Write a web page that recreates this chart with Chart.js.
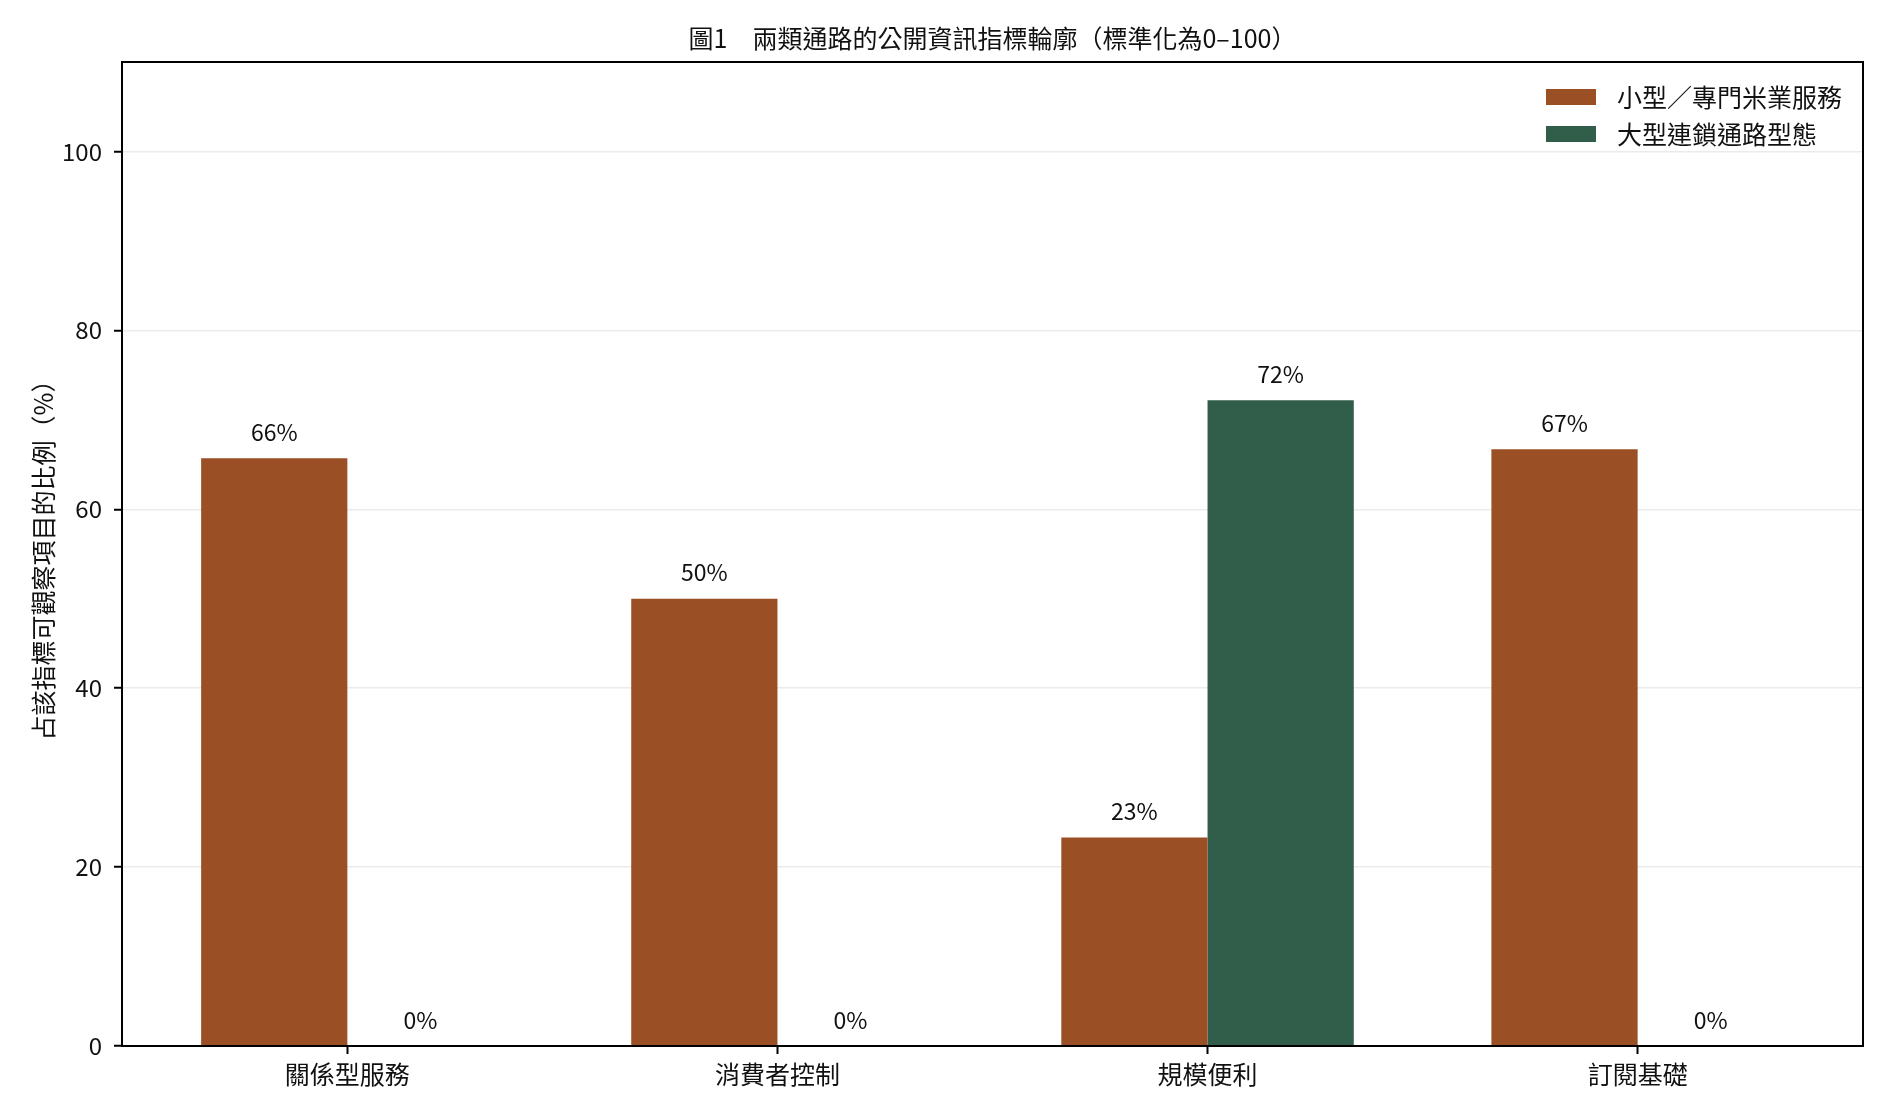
<!DOCTYPE html>
<html>
<head>
<meta charset="utf-8">
<script src="https://cdn.jsdelivr.net/npm/chart.js@4.4.1/dist/chart.umd.min.js"></script>
<style>
  html, body { margin: 0; padding: 0; background: #fff; }
  #wrap { width: 1890px; height: 1116px; }
</style>
</head>
<body>
<div id="wrap"><canvas id="chart" width="1890" height="1116"></canvas></div>
<script>
const categories = ['關係型服務', '消費者控制', '規模便利', '訂閱基礎'];
const smallShop = [65.7, 50.0, 23.3, 66.7];
const chainStore = [0, 0, 72.2, 0];
const seriesNames = ['小型／專門米業服務', '大型連鎖通路型態'];
const seriesColors = ['#9a4f24', '#315d4b'];
const yTicks = [0, 20, 40, 60, 80, 100];

const FONT = "'Noto Sans CJK TC', 'Noto Sans CJK SC', 'Noto Sans', sans-serif";

const toPoints = (values) => values.map((v, i) => ({ x: i, y: v }));

// value labels above each bar
const valueLabels = {
    id: 'valueLabels',
    afterDatasetsDraw(chart) {
        const ctx = chart.ctx;
        ctx.save();
        ctx.font = `23px ${FONT}`;
        ctx.fillStyle = '#111';
        ctx.textAlign = 'center';
        ctx.textBaseline = 'middle';
        chart.data.datasets.forEach((ds, di) => {
            const meta = chart.getDatasetMeta(di);
            meta.data.forEach((bar, i) => {
                const v = ds.data[i].y;
                ctx.fillText(`${Math.round(v)}%`, bar.x, bar.y - 26);
            });
        });
        ctx.restore();
    }
};

// frame around plot area + legend inside top right
const frameAndLegend = {
    id: 'frameAndLegend',
    afterDraw(chart) {
        const { ctx, chartArea: a } = chart;
        ctx.save();
        ctx.strokeStyle = '#000';
        ctx.lineWidth = 2;
        ctx.strokeRect(a.left, a.top, a.right - a.left, a.bottom - a.top);

        ctx.font = `25px ${FONT}`;
        ctx.textAlign = 'left';
        ctx.textBaseline = 'middle';
        chart.data.datasets.forEach((ds, i) => {
            const cy = a.top + 35 + i * 37;
            ctx.fillStyle = ds.backgroundColor;
            ctx.fillRect(a.right - 317, cy - 8, 50, 16);
            ctx.fillStyle = '#111';
            ctx.fillText(ds.label, a.right - 246, cy);
        });
        ctx.restore();
    }
};

const ctx = document.getElementById('chart').getContext('2d');

new Chart(ctx, {
    type: 'bar',
    data: {
        datasets: [
            {
                label: seriesNames[0],
                data: toPoints(smallShop),
                backgroundColor: seriesColors[0],
                categoryPercentage: 0.68,
                barPercentage: 1.0
            },
            {
                label: seriesNames[1],
                data: toPoints(chainStore),
                backgroundColor: seriesColors[1],
                categoryPercentage: 0.68,
                barPercentage: 1.0
            }
        ]
    },
    options: {
        responsive: false,
        animation: false,
        devicePixelRatio: 1,
        layout: { padding: { left: 0, right: 27, top: 0, bottom: 0 } },
        plugins: {
            legend: { display: false },
            tooltip: { enabled: false },
            title: {
                display: true,
                fullSize: false,
                text: '圖1　兩類通路的公開資訊指標輪廓（標準化為0–100）',
                color: '#111',
                font: { family: FONT, size: 25, weight: 'normal' },
                padding: { top: 23, bottom: 9 }
            }
        },
        scales: {
            x: {
                type: 'linear',
                min: -0.524,
                max: 3.524,
                offset: false,
                afterBuildTicks: (scale) => {
                    scale.ticks = categories.map((c, i) => ({ value: i }));
                },
                afterFit: (scale) => { scale.height = 70; },
                ticks: {
                    color: '#111',
                    font: { family: FONT, size: 25 },
                    padding: 5,
                    maxRotation: 0,
                    autoSkip: false,
                    callback: (v) => categories[v]
                },
                grid: {
                    drawOnChartArea: false,
                    drawTicks: true,
                    tickLength: 8,
                    tickColor: '#000',
                    tickWidth: 2,
                    offset: false
                },
                border: { display: false }
            },
            y: {
                min: 0,
                max: 110,
                afterBuildTicks: (scale) => {
                    scale.ticks = yTicks.map(v => ({ value: v }));
                },
                afterFit: (scale) => { scale.width = 122; },
                ticks: {
                    color: '#111',
                    font: { family: FONT, size: 24 },
                    padding: 12
                },
                grid: {
                    color: '#ebebeb',
                    lineWidth: 1.5,
                    tickLength: 8,
                    tickColor: '#000',
                    tickWidth: 2
                },
                border: { display: false },
                title: {
                    display: true,
                    text: '占該指標可觀察項目的比例（%）',
                    color: '#111',
                    font: { family: FONT, size: 25 },
                    padding: { top: 28, bottom: 0 }
                }
            }
        }
    },
    plugins: [valueLabels, frameAndLegend]
});
</script>
</body>
</html>
